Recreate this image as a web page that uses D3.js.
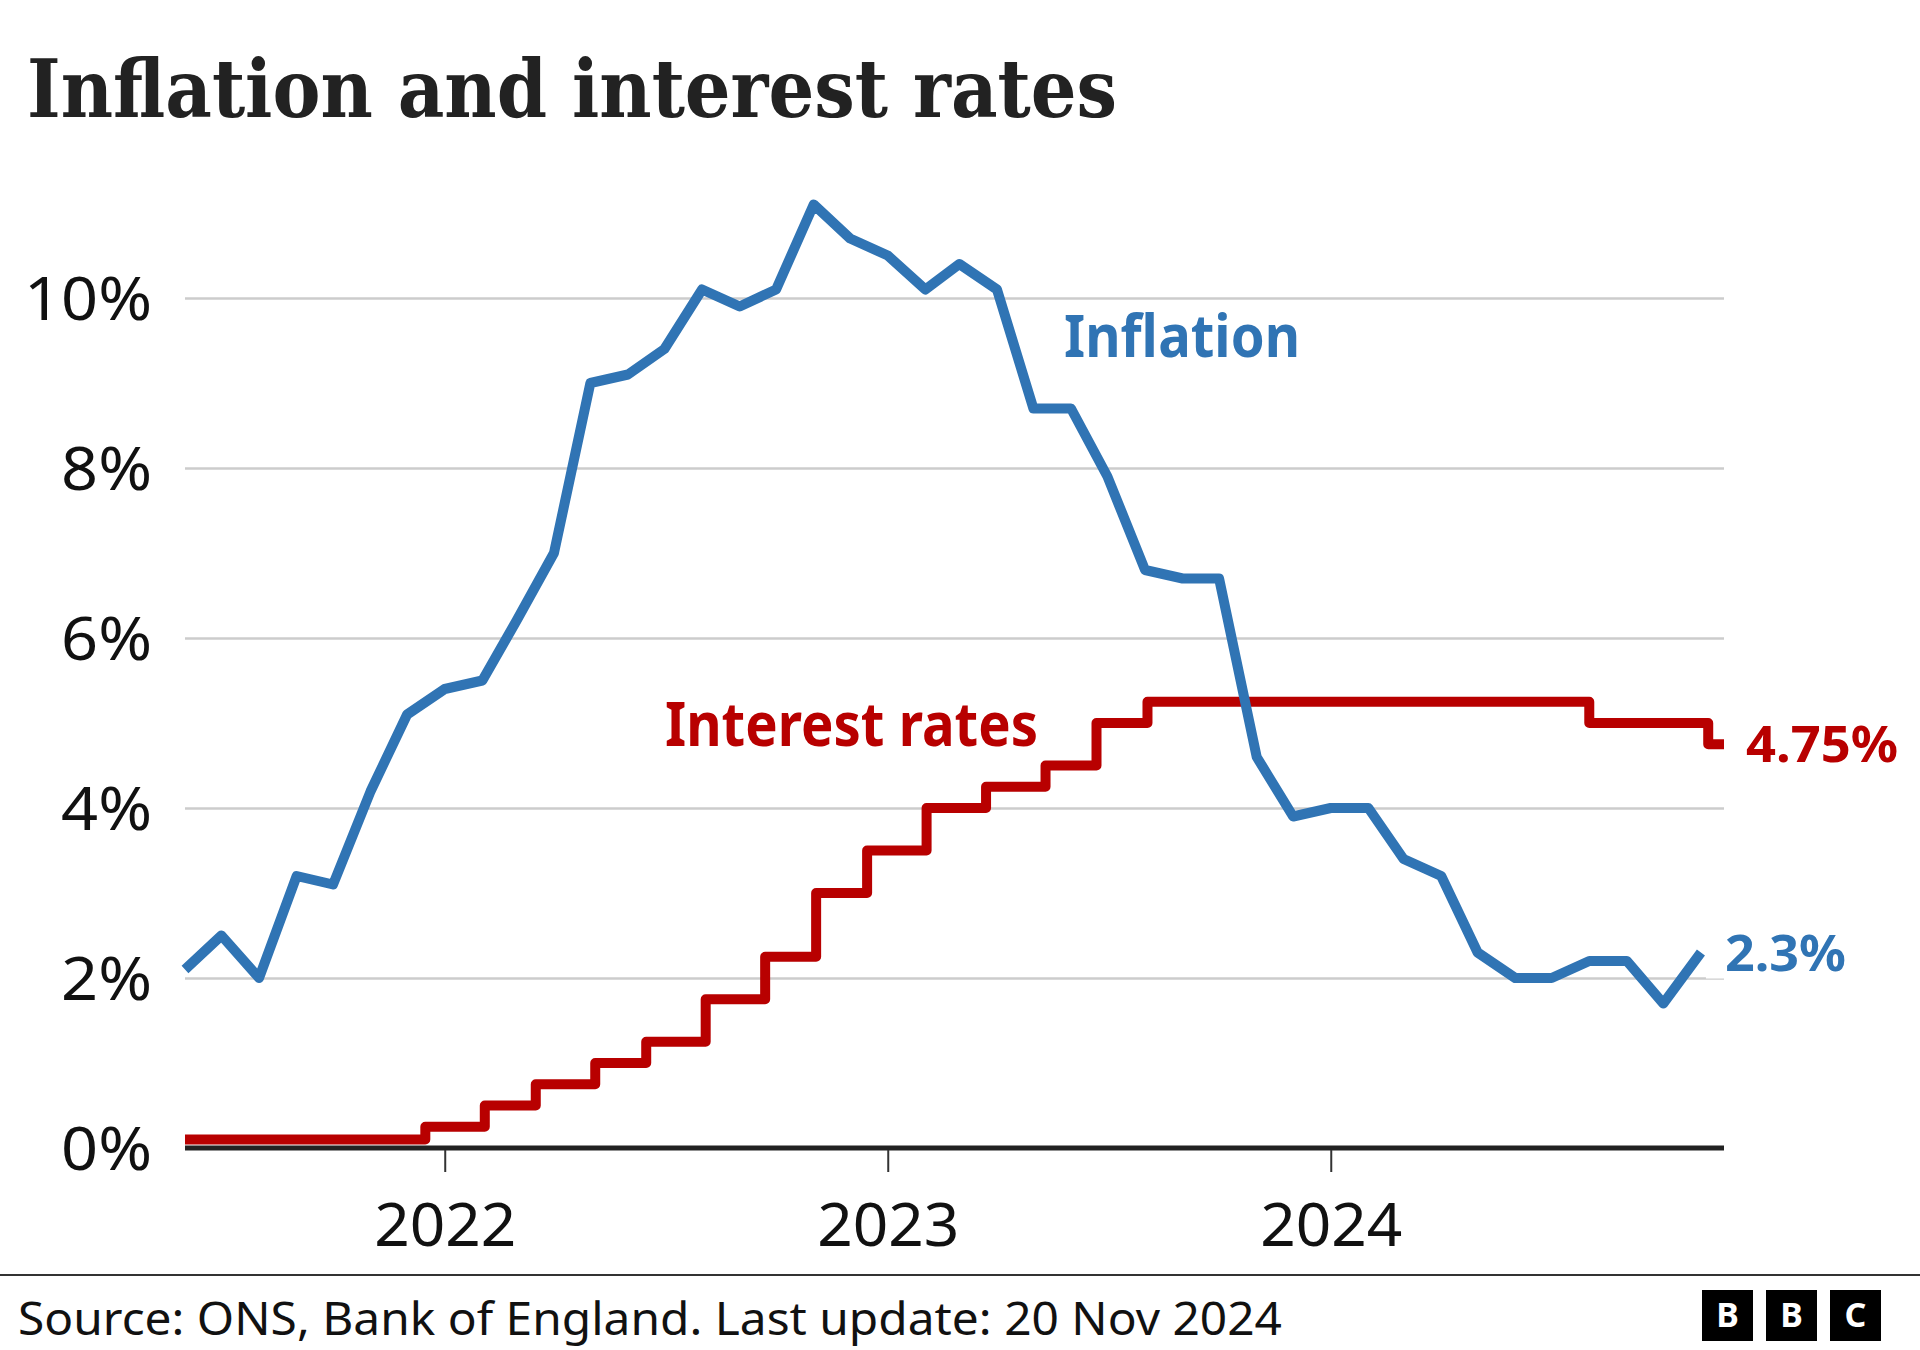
<!DOCTYPE html>
<html><head><meta charset="utf-8">
<script src="https://cdn.jsdelivr.net/npm/d3@7"></script>
<style>html,body{margin:0;padding:0;background:#fff;} svg{display:block;}</style>
</head><body>
<script>
// ---- Data ----
const inflationMonths = [
  "2021-05","2021-06","2021-07","2021-08","2021-09","2021-10","2021-11","2021-12",
  "2022-01","2022-02","2022-03","2022-04","2022-05","2022-06","2022-07","2022-08","2022-09","2022-10","2022-11","2022-12",
  "2023-01","2023-02","2023-03","2023-04","2023-05","2023-06","2023-07","2023-08","2023-09","2023-10","2023-11","2023-12",
  "2024-01","2024-02","2024-03","2024-04","2024-05","2024-06","2024-07","2024-08","2024-09","2024-10"
];
const inflationValues = [
  2.1,2.5,2.0,3.2,3.1,4.2,5.1,5.4,
  5.5,6.2,7.0,9.0,9.1,9.4,10.1,9.9,10.1,11.1,10.7,10.5,
  10.1,10.4,10.1,8.7,8.7,7.9,6.8,6.7,6.7,4.6,3.9,4.0,
  4.0,3.4,3.2,2.3,2.0,2.0,2.2,2.2,1.7,2.3
];
const rateDates = [
  "2021-06-01","2021-12-16","2022-02-03","2022-03-17","2022-05-05","2022-06-16",
  "2022-08-04","2022-09-22","2022-11-03","2022-12-15","2023-02-02","2023-03-23",
  "2023-05-11","2023-06-22","2023-08-03","2024-08-01","2024-11-07","2024-11-20"
];
const rateValues = [
  0.1,0.25,0.5,0.75,1.0,1.25,
  1.75,2.25,3.0,3.5,4.0,4.25,
  4.5,5.0,5.25,5.0,4.75,4.75
];
const yTicks = [0,2,4,6,8,10];
const yearTicks = ["2022-01-01","2023-01-01","2024-01-01"];
const xDomain = ["2021-06-01","2024-11-20"];
const titleText = "Inflation and interest rates";
const sourceText = "Source: ONS, Bank of England. Last update: 20 Nov 2024";

// ---- Setup ----
const W = 1920, H = 1350;
const BLUE = "#3074b4", RED = "#b80000";
const parseDay = d3.timeParse("%Y-%m-%d");
const parseMonth = d3.timeParse("%Y-%m");
const sans = "'Noto Sans', 'Open Sans', sans-serif";

const svg = d3.select("body").append("svg").attr("width", W).attr("height", H)
  .style("background", "#fff");

const x = d3.scaleTime().domain(xDomain.map(parseDay)).range([185, 1724]);
const y = d3.scaleLinear().domain([0, 10]).range([1148, 298]);

function fit(sel, target) {
  const n = sel.node();
  const w = n.getComputedTextLength();
  if (Math.abs(w - target) > 2) sel.attr("textLength", target).attr("lengthAdjust", "spacingAndGlyphs");
  return sel;
}

// Title
fit(svg.append("text").attr("x", 27).attr("y", 117)
  .attr("font-family", "'DejaVu Serif Condensed', 'DejaVu Serif', serif")
  .attr("font-stretch", "condensed")
  .attr("font-weight", 700).attr("font-size", 81).attr("fill", "#222")
  .text(titleText), 1090);

// Gridlines + y labels via axis
const yAxis = d3.axisLeft(y).tickValues(yTicks).tickSize(-(x.range()[1] - x.range()[0]))
  .tickPadding(33).tickFormat(d => d + "%");
const gy = svg.append("g").attr("transform", `translate(${x.range()[0]},0)`).call(yAxis);
gy.select(".domain").remove();
gy.selectAll(".tick line").attr("stroke", "#cccccc").attr("stroke-width", 2.5);
gy.selectAll(".tick").filter(d => d === 0).select("line").remove();
gy.selectAll(".tick text").attr("font-family", sans).attr("font-size", 60)
  .attr("fill", "#111").attr("dy", "0.36em")
  .each(function () { const t = d3.select(this); fit(t, this.getComputedTextLength() * 1.08); });

// Baseline (0%)
svg.append("line").attr("x1", x.range()[0]).attr("x2", x.range()[1])
  .attr("y1", y(0)).attr("y2", y(0)).attr("stroke", "#222").attr("stroke-width", 5);

// X axis ticks + year labels
const xAxis = d3.axisBottom(x).tickValues(yearTicks.map(parseDay)).tickSize(22)
  .tickFormat(d3.timeFormat("%Y"));
const gx = svg.append("g").attr("transform", `translate(0,${y(0) + 2})`).call(xAxis);
gx.select(".domain").remove();
gx.selectAll(".tick line").attr("stroke", "#333").attr("stroke-width", 2);
gx.selectAll(".tick text").attr("font-family", sans).attr("font-size", 60)
  .attr("fill", "#111").attr("y", 96).attr("dy", 0)
  .each(function () { const t = d3.select(this); fit(t, this.getComputedTextLength() * 1.035); });

// Lines
const infData = inflationMonths.map((m, i) => ({ d: d3.timeMonth.offset(parseMonth(m), 1), v: inflationValues[i] }));
const rateData = rateDates.map((s, i) => ({ d: parseDay(s), v: rateValues[i] }));

const lastInf = infData[infData.length - 1];
const lastRate = rateData[rateData.length - 1];

// white box behind 2.3% label (hides gridline)
svg.append("rect").attr("x", x(lastInf.d) + 5).attr("y", y(lastInf.v) - 26)
  .attr("width", 160).attr("height", 52).attr("fill", "#fff");

svg.append("path").datum(rateData)
  .attr("d", d3.line().x(d => x(d.d)).y(d => y(d.v)).curve(d3.curveStepAfter))
  .attr("fill", "none").attr("stroke", RED).attr("stroke-width", 10)
  .attr("stroke-linejoin", "round").attr("stroke-linecap", "butt");

svg.append("path").datum(infData)
  .attr("d", d3.line().x(d => x(d.d)).y(d => y(d.v)))
  .attr("fill", "none").attr("stroke", BLUE).attr("stroke-width", 10)
  .attr("stroke-linejoin", "round").attr("stroke-linecap", "butt");

// Series labels
fit(svg.append("text").attr("x", 1064).attr("y", 357).attr("font-family", sans)
  .attr("font-weight", 700).attr("font-size", 60).attr("fill", BLUE).text("Inflation"), 236);
fit(svg.append("text").attr("x", 665).attr("y", 746).attr("font-family", sans)
  .attr("font-weight", 700).attr("font-size", 61).attr("fill", RED).text("Interest rates"), 373);

// End value labels
fit(svg.append("text").attr("x", x(lastRate.d) + 22).attr("y", y(lastRate.v) + 18)
  .attr("font-family", sans).attr("font-weight", 700).attr("font-size", 51)
  .attr("fill", RED).text(d3.format(".2f")(lastRate.v) + "%"), 152);
fit(svg.append("text").attr("x", x(lastInf.d) + 24).attr("y", y(lastInf.v) + 18)
  .attr("font-family", sans).attr("font-weight", 700).attr("font-size", 51)
  .attr("fill", BLUE).text(d3.format(".1f")(lastInf.v) + "%"), 121);

// Footer
svg.append("line").attr("x1", 0).attr("x2", W).attr("y1", 1275).attr("y2", 1275)
  .attr("stroke", "#333").attr("stroke-width", 2);
fit(svg.append("text").attr("x", 18).attr("y", 1335).attr("font-family", sans)
  .attr("font-size", 46).attr("fill", "#111").text(sourceText), 1264);

const logo = svg.append("g");
["B", "B", "C"].forEach((c, i) => {
  const lx = 1702 + i * 64;
  logo.append("rect").attr("x", lx).attr("y", 1290).attr("width", 51).attr("height", 51).attr("fill", "#000");
  logo.append("text").attr("x", lx + 25.5).attr("y", 1327).attr("text-anchor", "middle")
    .attr("font-family", sans).attr("font-weight", 700).attr("font-size", 34)
    .attr("fill", "#fff").text(c);
});
</script>
</body></html>
